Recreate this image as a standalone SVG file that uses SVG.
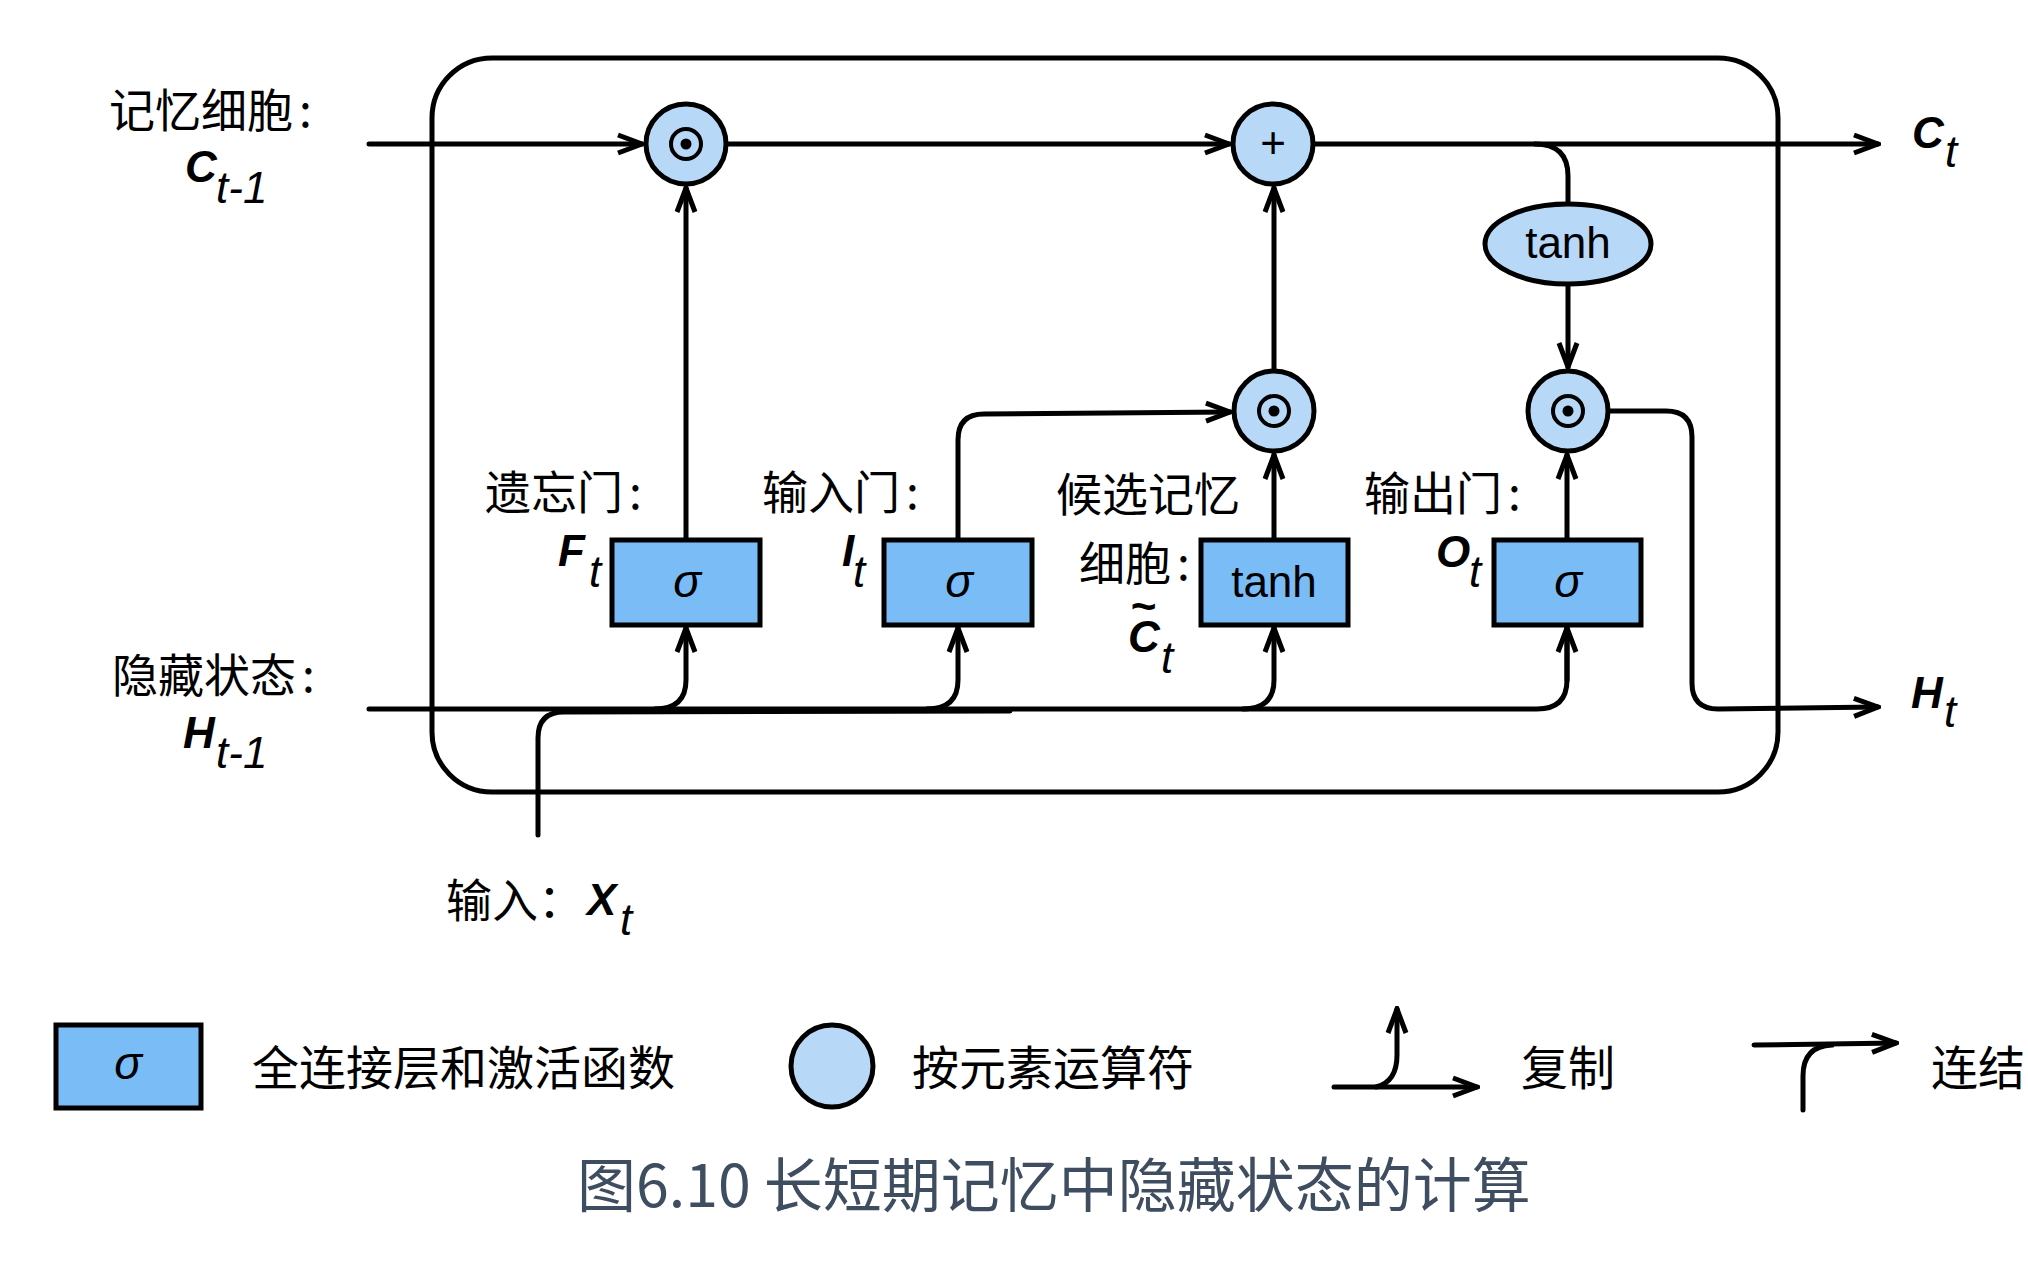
<svg xmlns="http://www.w3.org/2000/svg" width="2028" height="1262" viewBox="0 0 2028 1262">
<defs>
<marker id="arr" viewBox="0 0 30 24" refX="27" refY="12" markerWidth="30" markerHeight="24" markerUnits="userSpaceOnUse" orient="auto">
<path d="M3,3 L27,12 L3,21" fill="none" stroke="#000" stroke-width="5" stroke-linejoin="miter"/>
</marker>
</defs>
<style>
.ln{fill:none;stroke:#000;stroke-width:5;stroke-linecap:round}
.ar{marker-end:url(#arr)}
.box{fill:#79bcf6;stroke:#000;stroke-width:5}
.op{fill:#b8d8f8;stroke:#000;stroke-width:5}
.cn{font-family:"Noto Sans CJK SC","Noto Sans",sans-serif;font-size:46px;fill:#000}
.lg{font-size:47px}
.mb{font-family:"Liberation Sans",Arial,sans-serif;font-size:44px;font-weight:bold;font-style:italic;fill:#000}
.ms{font-family:"Liberation Sans",Arial,sans-serif;font-size:44px;font-style:italic;fill:#000}
.fn{font-family:"Liberation Sans",Arial,sans-serif;font-size:44px;fill:#000;text-anchor:middle}
.sg{font-family:"Liberation Sans",Arial,sans-serif;font-size:46px;font-style:italic;fill:#000;text-anchor:middle}
.cap{font-family:"Noto Sans CJK SC","Noto Sans",sans-serif;font-size:59px;fill:#3e4d60}
</style>
<rect id="cell" x="432" y="58" width="1346" height="734" rx="60" ry="60" fill="none" stroke="#000" stroke-width="5"/>
<g id="connectors">
<path class="ln ar" d="M369 144 L642 144"/>
<path class="ln ar" d="M728 144 L1229 144"/>
<path class="ln ar" d="M1315 144 L1878 144"/>
<path class="ln" d="M1535 144 Q1568 144 1568 176 L1568 202"/>
<path class="ln ar" d="M1568 286 L1568 367"/>
<path class="ln ar" d="M1610 411 L1666 411 Q1692 411 1692 437 L1692 683 Q1692 709 1718 709 L1878 707"/>
<path class="ln" d="M369 709 L1537 709 Q1567 709 1567 680 L1567 628"/>
<path class="ln ar" d="M1567 680 L1567 628"/>
<path class="ln ar" d="M655 709 Q686 709 686 680 L686 628"/>
<path class="ln ar" d="M927 709 Q958 709 958 680 L958 628"/>
<path class="ln ar" d="M1243 709 Q1274 709 1274 680 L1274 628"/>
<path class="ln" d="M538 835 L538 738 Q538 712 564 712 L1010 711"/>
<path class="ln ar" d="M686 540 L686 188"/>
<path class="ln ar" d="M958 540 L958 440 Q958 414 984 414 L1230 412"/>
<path class="ln ar" d="M1274 540 L1274 455"/>
<path class="ln ar" d="M1274 369 L1274 188"/>
<path class="ln ar" d="M1567 540 L1567 455"/>
</g>
<g id="mult-forget"><circle class="op" cx="686" cy="144" r="40"/><circle cx="686" cy="144" r="15" fill="none" stroke="#000" stroke-width="4"/><circle cx="686" cy="144" r="5.5" fill="#000"/></g>
<g id="plus"><circle class="op" cx="1273" cy="144" r="40"/><text class="fn" x="1273" y="158" font-size="40">+</text></g>
<g id="mult-input"><circle class="op" cx="1274" cy="411" r="40"/><circle cx="1274" cy="411" r="15" fill="none" stroke="#000" stroke-width="4"/><circle cx="1274" cy="411" r="5.5" fill="#000"/></g>
<g id="mult-output"><circle class="op" cx="1568" cy="411" r="40"/><circle cx="1568" cy="411" r="15" fill="none" stroke="#000" stroke-width="4"/><circle cx="1568" cy="411" r="5.5" fill="#000"/></g>
<g id="tanh-cell"><ellipse class="op" cx="1568" cy="244" rx="83" ry="40"/><text class="fn" x="1568" y="258" font-size="46">tanh</text></g>
<g id="gate-forget"><rect class="box" x="612" y="540" width="148" height="85"/><text class="sg" x="687" y="597">σ</text></g>
<g id="gate-input"><rect class="box" x="884" y="540" width="148" height="85"/><text class="sg" x="959" y="597">σ</text></g>
<g id="gate-candidate"><rect class="box" x="1201" y="540" width="147" height="85"/><text class="fn" x="1274" y="597">tanh</text></g>
<g id="gate-output"><rect class="box" x="1494" y="540" width="147" height="85"/><text class="sg" x="1568" y="597">σ</text></g>
<g id="labels">
<text class="cn" x="109" y="127">记忆细胞<tspan dx="6">:</tspan></text>
<text class="mb" x="185" y="182">C</text><text class="ms" x="216" y="203">t-1</text>
<text class="cn" x="112" y="692">隐藏状态<tspan dx="6">:</tspan></text>
<text class="mb" x="183" y="748">H</text><text class="ms" x="216" y="768">t-1</text>
<text class="cn" x="446" y="917">输入：</text>
<text class="mb" x="587" y="915">X</text><text class="ms" x="620" y="935">t</text>
<text class="mb" x="1912" y="148">C</text><text class="ms" x="1945" y="167">t</text>
<text class="mb" x="1911" y="708">H</text><text class="ms" x="1944" y="727">t</text>
<text class="cn" x="485" y="509">遗忘门<tspan dx="6">:</tspan></text>
<text class="mb" x="558" y="566">F</text><text class="ms" x="589" y="587">t</text>
<text class="cn" x="762" y="509">输入门<tspan dx="6">:</tspan></text>
<text class="mb" x="842" y="566">I</text><text class="ms" x="853" y="587">t</text>
<text class="cn" x="1056" y="511">候选记忆</text>
<text class="cn" x="1079" y="580">细胞<tspan dx="6">:</tspan><tspan class="mb" x="1130" y="621" font-size="38">~</tspan><tspan class="mb" x="1128" y="652">C</tspan><tspan class="ms" x="1161" y="673">t</tspan></text>
<text class="cn" x="1364" y="510">输出门<tspan dx="6">:</tspan></text>
<text class="mb" x="1436" y="567">O</text><text class="ms" x="1469" y="587">t</text>
</g>
<g id="legend-fc"><rect class="box" x="56" y="1025" width="145" height="83"/><text class="sg" x="128" y="1079">σ</text><text class="cn lg" x="252" y="1085">全连接层和激活函数</text></g>
<g id="legend-op"><circle class="op" cx="832" cy="1066" r="41"/><text class="cn lg" x="912" y="1085">按元素运算符</text></g>
<g id="legend-copy"><path class="ln ar" d="M1334 1087 L1477 1087"/><path class="ln ar" d="M1376 1087 Q1397 1082 1397 1055 L1397 1009"/><text class="cn lg" x="1521" y="1085">复制</text></g>
<g id="legend-concat"><path class="ln ar" d="M1754 1045 L1896 1043"/><path class="ln" d="M1803 1110 L1803 1076 Q1803 1046 1832 1045"/><text class="cn lg" x="1931" y="1085">连结</text></g>
<text class="cap" x="577" y="1207">图6.10 长短期记忆中隐藏状态的计算</text>
</svg>
